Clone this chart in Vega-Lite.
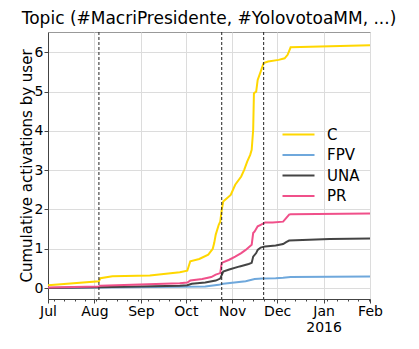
{
  "$schema": "https://vega.github.io/schema/vega-lite/v6.json",
  "width": 322,
  "height": 267,
  "autosize": {"type": "none"},
  "padding": {"left": 48, "top": 32, "right": 49, "bottom": 50},
  "background": "white",
  "config": {
    "font": "DejaVu Sans",
    "view": {"stroke": "#999", "strokeWidth": 1},
    "axis": {
      "labelFont": "DejaVu Sans",
      "labelFontSize": 14,
      "labelColor": "#000",
      "titleFont": "DejaVu Sans",
      "titleFontSize": 15,
      "titleFontWeight": "normal",
      "titleColor": "#000",
      "gridColor": "#dcdcdc",
      "gridWidth": 1,
      "domainColor": "#444",
      "tickColor": "#444",
      "tickSize": 4
    }
  },
  "title": {
    "text": "Topic (#MacriPresidente, #YolovotoaMM, ...)",
    "font": "DejaVu Sans",
    "fontSize": 17,
    "fontWeight": "normal",
    "color": "#000",
    "anchor": "middle",
    "offset": 4
  },
  "datasets": {
    "series": [
      {"party": "C", "date": "2015-07-01", "v": 0.07},
      {"party": "C", "date": "2015-08-04", "v": 0.17},
      {"party": "C", "date": "2015-08-05", "v": 0.25},
      {"party": "C", "date": "2015-08-13", "v": 0.30},
      {"party": "C", "date": "2015-09-07", "v": 0.32},
      {"party": "C", "date": "2015-09-27", "v": 0.40},
      {"party": "C", "date": "2015-10-02", "v": 0.44},
      {"party": "C", "date": "2015-10-04", "v": 0.68},
      {"party": "C", "date": "2015-10-10", "v": 0.74},
      {"party": "C", "date": "2015-10-16", "v": 0.85},
      {"party": "C", "date": "2015-10-19", "v": 1.00},
      {"party": "C", "date": "2015-10-20", "v": 1.15},
      {"party": "C", "date": "2015-10-21", "v": 1.36},
      {"party": "C", "date": "2015-10-23", "v": 1.61},
      {"party": "C", "date": "2015-10-24", "v": 1.69},
      {"party": "C", "date": "2015-10-25", "v": 1.99},
      {"party": "C", "date": "2015-10-26", "v": 2.20},
      {"party": "C", "date": "2015-10-31", "v": 2.37},
      {"party": "C", "date": "2015-11-03", "v": 2.63},
      {"party": "C", "date": "2015-11-07", "v": 2.84},
      {"party": "C", "date": "2015-11-09", "v": 3.01},
      {"party": "C", "date": "2015-11-11", "v": 3.22},
      {"party": "C", "date": "2015-11-13", "v": 3.39},
      {"party": "C", "date": "2015-11-14", "v": 3.52},
      {"party": "C", "date": "2015-11-15", "v": 4.03},
      {"party": "C", "date": "2015-11-15T12:00:00Z", "v": 4.96},
      {"party": "C", "date": "2015-11-17", "v": 5.00},
      {"party": "C", "date": "2015-11-18", "v": 5.30},
      {"party": "C", "date": "2015-11-20", "v": 5.51},
      {"party": "C", "date": "2015-11-22", "v": 5.73},
      {"party": "C", "date": "2015-11-25", "v": 5.77},
      {"party": "C", "date": "2015-12-02", "v": 5.81},
      {"party": "C", "date": "2015-12-06", "v": 5.85},
      {"party": "C", "date": "2015-12-08", "v": 5.94},
      {"party": "C", "date": "2015-12-10", "v": 6.13},
      {"party": "C", "date": "2016-02-01", "v": 6.18},
      {"party": "FPV", "date": "2015-07-01", "v": 0.0},
      {"party": "FPV", "date": "2015-08-04", "v": 0.01},
      {"party": "FPV", "date": "2015-09-27", "v": 0.03},
      {"party": "FPV", "date": "2015-10-14", "v": 0.04},
      {"party": "FPV", "date": "2015-10-23", "v": 0.08},
      {"party": "FPV", "date": "2015-10-26", "v": 0.11},
      {"party": "FPV", "date": "2015-11-10", "v": 0.17},
      {"party": "FPV", "date": "2015-11-16", "v": 0.23},
      {"party": "FPV", "date": "2015-11-21", "v": 0.24},
      {"party": "FPV", "date": "2015-11-30", "v": 0.25},
      {"party": "FPV", "date": "2015-12-05", "v": 0.26},
      {"party": "FPV", "date": "2015-12-10", "v": 0.28},
      {"party": "FPV", "date": "2016-02-01", "v": 0.295},
      {"party": "UNA", "date": "2015-07-01", "v": 0.0},
      {"party": "UNA", "date": "2015-08-04", "v": 0.02},
      {"party": "UNA", "date": "2015-09-27", "v": 0.06},
      {"party": "UNA", "date": "2015-10-02", "v": 0.07},
      {"party": "UNA", "date": "2015-10-05", "v": 0.11},
      {"party": "UNA", "date": "2015-10-14", "v": 0.14},
      {"party": "UNA", "date": "2015-10-21", "v": 0.19},
      {"party": "UNA", "date": "2015-10-24", "v": 0.24},
      {"party": "UNA", "date": "2015-10-26", "v": 0.42},
      {"party": "UNA", "date": "2015-10-30", "v": 0.47},
      {"party": "UNA", "date": "2015-11-06", "v": 0.55},
      {"party": "UNA", "date": "2015-11-12", "v": 0.61},
      {"party": "UNA", "date": "2015-11-14", "v": 0.64},
      {"party": "UNA", "date": "2015-11-15", "v": 0.80},
      {"party": "UNA", "date": "2015-11-17", "v": 0.89},
      {"party": "UNA", "date": "2015-11-18", "v": 0.97},
      {"party": "UNA", "date": "2015-11-20", "v": 1.03},
      {"party": "UNA", "date": "2015-11-23", "v": 1.06},
      {"party": "UNA", "date": "2015-11-30", "v": 1.08},
      {"party": "UNA", "date": "2015-12-05", "v": 1.12},
      {"party": "UNA", "date": "2015-12-07", "v": 1.17},
      {"party": "UNA", "date": "2015-12-09", "v": 1.21},
      {"party": "UNA", "date": "2016-01-05", "v": 1.25},
      {"party": "UNA", "date": "2016-02-01", "v": 1.26},
      {"party": "PR", "date": "2015-07-01", "v": 0.01},
      {"party": "PR", "date": "2015-08-04", "v": 0.04},
      {"party": "PR", "date": "2015-08-05", "v": 0.06},
      {"party": "PR", "date": "2015-09-27", "v": 0.12},
      {"party": "PR", "date": "2015-10-02", "v": 0.14},
      {"party": "PR", "date": "2015-10-04", "v": 0.19},
      {"party": "PR", "date": "2015-10-12", "v": 0.23},
      {"party": "PR", "date": "2015-10-18", "v": 0.28},
      {"party": "PR", "date": "2015-10-21", "v": 0.34},
      {"party": "PR", "date": "2015-10-24", "v": 0.38},
      {"party": "PR", "date": "2015-10-25", "v": 0.64},
      {"party": "PR", "date": "2015-10-30", "v": 0.72},
      {"party": "PR", "date": "2015-11-03", "v": 0.80},
      {"party": "PR", "date": "2015-11-07", "v": 0.89},
      {"party": "PR", "date": "2015-11-10", "v": 0.97},
      {"party": "PR", "date": "2015-11-14", "v": 1.10},
      {"party": "PR", "date": "2015-11-15", "v": 1.40},
      {"party": "PR", "date": "2015-11-16", "v": 1.44},
      {"party": "PR", "date": "2015-11-18", "v": 1.57},
      {"party": "PR", "date": "2015-11-20", "v": 1.61},
      {"party": "PR", "date": "2015-11-23", "v": 1.67},
      {"party": "PR", "date": "2015-11-28", "v": 1.67},
      {"party": "PR", "date": "2015-12-05", "v": 1.69},
      {"party": "PR", "date": "2015-12-07", "v": 1.78},
      {"party": "PR", "date": "2015-12-09", "v": 1.87},
      {"party": "PR", "date": "2015-12-10", "v": 1.88},
      {"party": "PR", "date": "2016-02-01", "v": 1.90}
    ],
    "events": [
      {"date": "2015-08-04"},
      {"date": "2015-10-25"},
      {"date": "2015-11-22"}
    ]
  },
  "layer": [
    {
      "data": {"name": "series"},
      "mark": {"type": "line", "strokeWidth": 2, "interpolate": "linear"},
      "encoding": {
        "x": {
          "field": "date",
          "type": "temporal",
          "scale": {"type": "utc", "domain": [{"year": 2015, "month": 7, "date": 1, "utc": true}, {"year": 2016, "month": 2, "date": 1, "utc": true}]},
          "axis": {
            "title": null,
            "orient": "bottom",
            "tickCount": {"interval": "month", "step": 1},
            "labelExpr": "utcFormat(datum.value, '%b') == 'Jan' ? ['Jan', '2016'] : utcFormat(datum.value, '%b')",
            "labelPadding": 1,
            "labelFlush": false,
            "labelOverlap": false,
            "grid": true
          }
        },
        "y": {
          "field": "v",
          "type": "quantitative",
          "scale": {"domain": [-0.28, 6.52], "nice": false, "zero": false},
          "axis": {
            "title": "Cumulative activations by user",
            "values": [0, 1, 2, 3, 4, 5, 6],
            "labelPadding": 1,
            "titlePadding": 0,
            "grid": true
          }
        },
        "color": {
          "field": "party",
          "type": "nominal",
          "scale": {"domain": ["C", "FPV", "UNA", "PR"], "range": ["#FFD700", "#6FA8DC", "#444444", "#F0508A"]},
          "legend": {
            "title": null,
            "orient": "none",
            "legendX": 243,
            "legendY": 95,
            "symbolType": "M-3.2,0H3.2",
            "symbolSize": 100,
            "symbolStrokeWidth": 2,
            "symbolFillColor": "transparent",
            "labelFont": "DejaVu Sans",
            "labelFontSize": 15,
            "labelColor": "#000",
            "labelOffset": 21,
            "rowPadding": 4.5
          }
        }
      }
    },
    {
      "data": {"name": "events"},
      "mark": {"type": "rule", "color": "#222", "strokeWidth": 1, "strokeDash": [3, 2]},
      "encoding": {
        "x": {
          "field": "date",
          "type": "temporal",
          "axis": {
            "title": null,
            "orient": "bottom",
            "tickCount": {"interval": "week", "step": 1},
            "labels": false,
            "grid": false,
            "domain": false,
            "tickSize": 2
          }
        }
      }
    }
  ],
  "resolve": {"axis": {"x": "independent"}}
}
